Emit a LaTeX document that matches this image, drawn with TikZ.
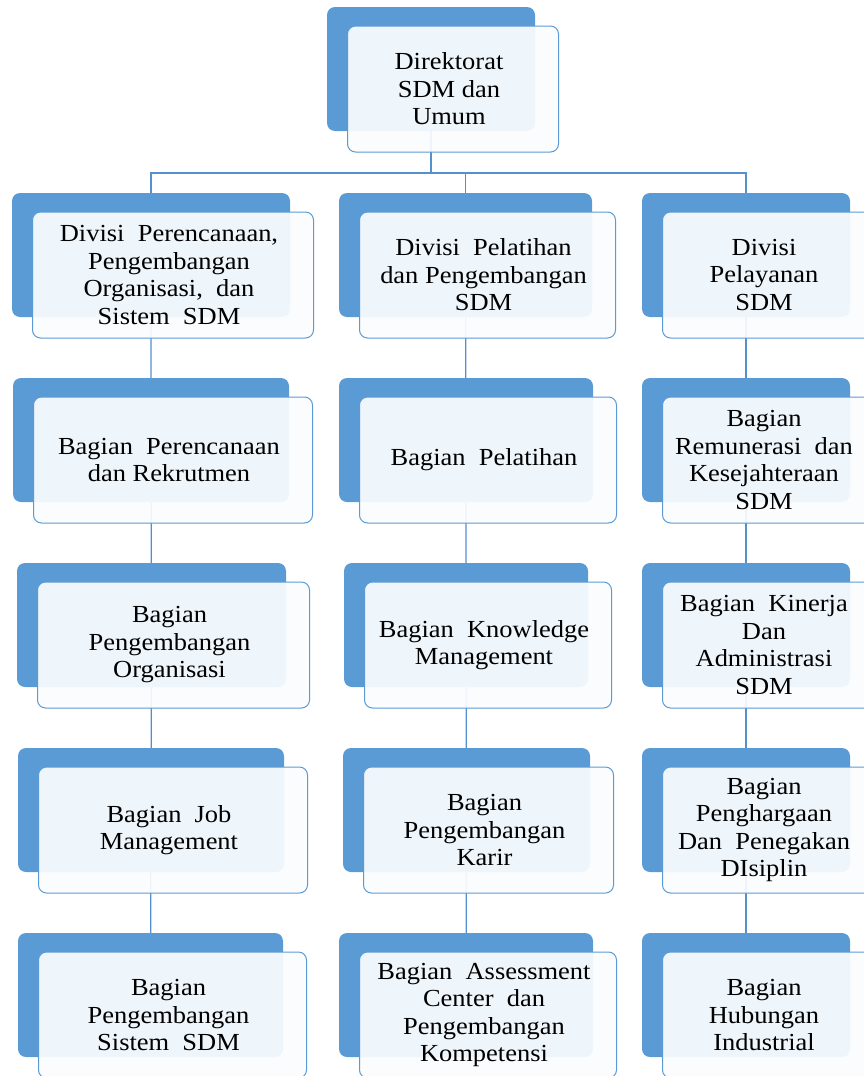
\documentclass[tikz,border=0pt]{standalone}
\usepackage{fontspec}
\setmainfont{Liberation Serif}[FakeStretch=1.08]
\usetikzlibrary{calc}
\pgfdeclarelayer{background}
\pgfsetlayers{background,main}
\definecolor{backblue}{RGB}{91,155,213}
\definecolor{frontfill}{RGB}{250,252,254}
\definecolor{linkblue}{RGB}{84,143,206}
\tikzset{
  backbox/.style={draw=none, fill=backblue, rounded corners=8pt, minimum height=124pt, inner sep=0pt},
  frontbox/.style={draw=backblue, line width=1pt, fill=frontfill, fill opacity=0.93, rounded corners=8pt, minimum height=126pt, inner sep=0pt},
  unittext/.style={align=center, font=\fontsize{24.5}{27.5}\selectfont, text=black, inner sep=0pt},
  link/.style={draw=linkblue, line width=1.3pt}
}
\newcommand\orgunit[5]{%
  \node[backbox, minimum width=#4pt] (b#1) at (#2,#3) {};
  \node[frontbox, minimum width=#4pt+3pt] (f#1) at ($(b#1.center)+(22,20)$) {};
  \node[unittext] (t#1) at ($(f#1.center)+(-4,0)$) {#5};
}
\begin{document}
\begin{tikzpicture}[x=1pt,y=-1pt]
\useasboundingbox (0,0) rectangle (863,1076);
\orgunit{top}{431}{69}{208}{Direktorat\\SDM dan\\Umum}
\orgunit{L1}{151}{255}{278}{Divisi\ \ Perencanaan,\\Pengembangan\\Organisasi,\ \ dan\\Sistem\ \ SDM}
\orgunit{M1}{465.5}{255}{253}{Divisi\ \ Pelatihan\\dan Pengembangan\\SDM}
\orgunit{R1}{746}{255}{208}{Divisi\\Pelayanan\\SDM}
\orgunit{L2}{151}{440}{276}{Bagian\ \ Perencanaan\\dan Rekrutmen}
\orgunit{M2}{466}{440}{254}{Bagian\ \ Pelatihan}
\orgunit{R2}{746}{440}{208}{Bagian\\Remunerasi\ \ dan\\Kesejahteraan\\SDM}
\orgunit{L3}{151.5}{625}{269}{Bagian\\Pengembangan\\Organisasi}
\orgunit{M3}{466}{625}{244}{Bagian\ \ Knowledge\\Management}
\orgunit{R3}{746}{625}{208}{Bagian\ \ Kinerja\\Dan\\Administrasi\\SDM}
\orgunit{L4}{151}{810}{266}{Bagian\ \ Job\\Management}
\orgunit{M4}{466.5}{810}{247}{Bagian\\Pengembangan\\Karir}
\orgunit{R4}{746}{810}{208}{Bagian\\Penghargaan\\Dan\ \ Penegakan\\DIsiplin}
\orgunit{L5}{150.5}{995}{265}{Bagian\\Pengembangan\\Sistem\ \ SDM}
\orgunit{M5}{466}{995}{254}{Bagian\ \ Assessment\\Center\ \ dan\\Pengembangan\\Kompetensi}
\orgunit{R5}{746}{995}{208}{Bagian\\Hubungan\\Industrial}
\begin{pgfonlayer}{background}
  \draw[link] (btop.center) -- ++(0,104) -| (bL1.center);
  \draw[link] (btop.center) -- ++(0,104) -| (bM1.center);
  \draw[link] (btop.center) -- ++(0,104) -| (bR1.center);
  \draw[link] (bL1.center) -- (bL2.center) -- (bL3.center) -- (bL4.center) -- (bL5.center);
  \draw[link] (bM1.center) -- (bM2.center) -- (bM3.center) -- (bM4.center) -- (bM5.center);
  \draw[link] (bR1.center) -- (bR2.center) -- (bR3.center) -- (bR4.center) -- (bR5.center);
\end{pgfonlayer}
\end{tikzpicture}
\end{document}
